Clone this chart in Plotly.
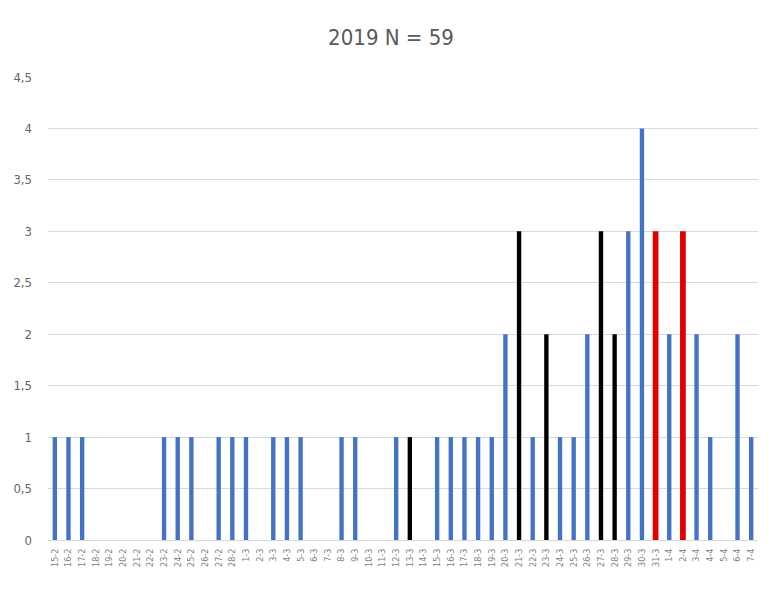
import plotly.graph_objects as go

# Categories: dates (day-month) 15-2 .. 7-4, 2019
dates = ([f"{d}-2" for d in range(15, 29)] +
         [f"{d}-3" for d in range(1, 32)] +
         [f"{d}-4" for d in range(1, 8)])

counts = [1, 1, 1, 0, 0, 0, 0, 0, 1, 1, 1, 0, 1, 1,          # 15-2 .. 28-2
          1, 0, 1, 1, 1, 0, 0, 1, 1, 0, 0, 1, 1, 0, 1, 1,    # 1-3 .. 16-3
          1, 1, 1, 2, 3, 1, 2, 1, 1, 2, 3, 2, 3, 4, 3,       # 17-3 .. 31-3
          2, 3, 2, 1, 0, 2, 1]                               # 1-4 .. 7-4

black_dates = ["13-3", "21-3", "23-3", "27-3", "28-3"]
red_dates = ["31-3", "2-4"]

BLUE, BLACK, RED = "#4472C4", "#000000", "#E00000"
colors = [BLACK if d in black_dates else RED if d in red_dates else BLUE for d in dates]
widths = [0.42 if d in red_dates else 0.32 for d in dates]

fig = go.Figure(go.Bar(x=dates, y=counts, marker=dict(color=colors, line=dict(width=0)),
                       width=widths))

font_fam = "DejaVu Sans Condensed, Liberation Sans Narrow, Liberation Sans, Arial"
fig.update_layout(
    width=772, height=584,
    margin=dict(l=40, r=22, t=69, b=52),
    paper_bgcolor="white", plot_bgcolor="white",
    separators=", ",
    title=dict(text="2019 N = 59", x=383 / 772, xanchor="center", y=0.949, yanchor="middle",
               font=dict(family=font_fam, size=22, color="#595959")),
    showlegend=False,
    xaxis=dict(type="category", tickangle=-90, tickfont=dict(family=font_fam, size=9, color="#7f7f7f"),
               showgrid=False, showline=True, linecolor="#d9d9d9", linewidth=1,
               ticks="", ticklabelstandoff=4, automargin=False),
    yaxis=dict(range=[0, 4.5], dtick=0.5, tick0=0, showgrid=True, gridcolor="#d9d9d9",
               gridwidth=1, zeroline=False, showline=False,
               tickfont=dict(family=font_fam, size=13, color="#666666"), ticks="",
               ticklabelstandoff=15, automargin=False),
)

fig.write_html("out.html")
